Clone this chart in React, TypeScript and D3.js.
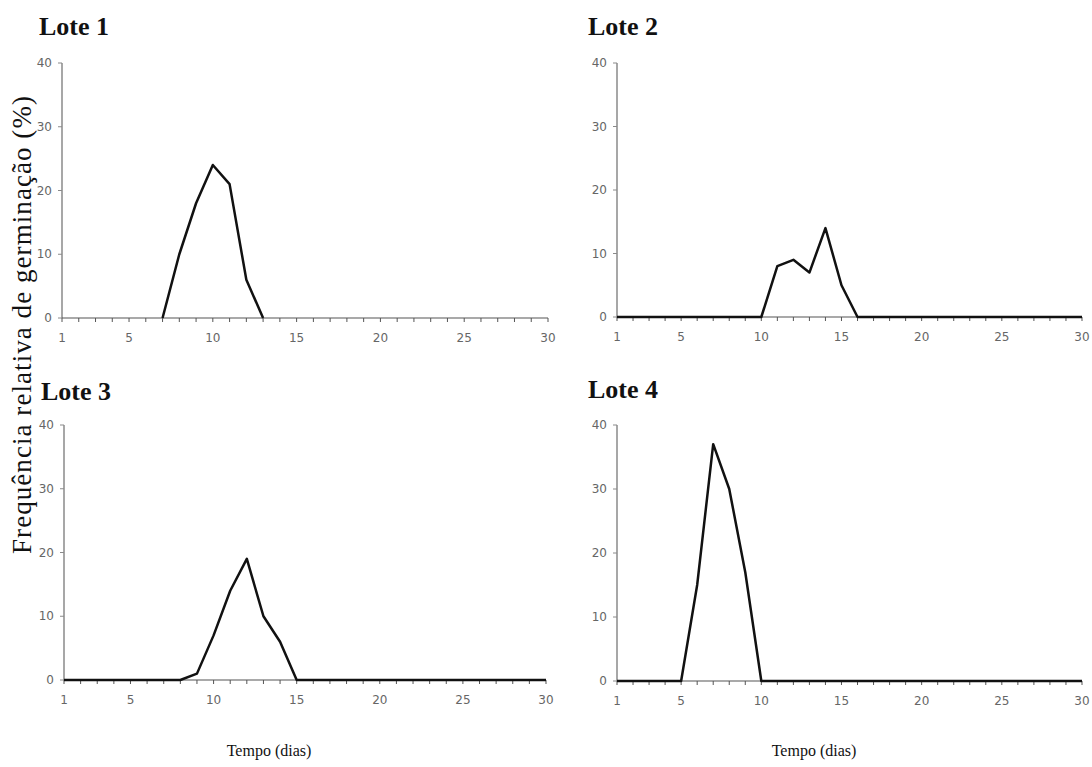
import React from "react";
import * as d3 from "d3";

const days = [1,2,3,4,5,6,7,8,9,10,11,12,13,14,15,16,17,18,19,20,21,22,23,24,25,26,27,28,29,30];
const xTickLabels = [1, 5, 10, 15, 20, 25, 30];
const yTickLabels = [0, 10, 20, 30, 40];

const lote1Days = [7, 8, 9, 10, 11, 12, 13];
const lote1Values = [0, 10, 18, 24, 21, 6, 0];
const lote2Values = [0,0,0,0,0,0,0,0,0,0,8,9,7,14,5,0,0,0,0,0,0,0,0,0,0,0,0,0,0,0];
const lote3Values = [0,0,0,0,0,0,0,0,1,7,14,19,10,6,0,0,0,0,0,0,0,0,0,0,0,0,0,0,0,0];
const lote4Values = [0,0,0,0,0,15,37,30,17,0,0,0,0,0,0,0,0,0,0,0,0,0,0,0,0,0,0,0,0,0];

const titles = ["Lote 1", "Lote 2", "Lote 3", "Lote 4"];
const yLabel = "Frequência relativa de germinação (%)";
const xLabel = "Tempo (dias)";

type Panel = {
  title: string; xs: number[]; ys: number[];
  x0: number; x1: number; yb: number; yt: number; tx: number; ty: number;
};

const panels: Panel[] = [
  { title: titles[0], xs: lote1Days, ys: lote1Values, x0: 62, x1: 548, yb: 318, yt: 63, tx: 39, ty: 35 },
  { title: titles[1], xs: days, ys: lote2Values, x0: 617, x1: 1082, yb: 317, yt: 63, tx: 588, ty: 35 },
  { title: titles[2], xs: days, ys: lote3Values, x0: 64, x1: 546, yb: 680, yt: 425, tx: 41, ty: 400 },
  { title: titles[3], xs: days, ys: lote4Values, x0: 617, x1: 1082, yb: 681, yt: 425, tx: 588, ty: 398 },
];

function PanelView({ p }: { p: Panel }) {
  const x = d3.scaleLinear().domain([1, 30]).range([p.x0, p.x1]);
  const y = d3.scaleLinear().domain([0, 40]).range([p.yb, p.yt]);
  const line = d3.line<number>().x((_, i) => x(p.xs[i])).y((d) => y(d));
  return (
    <g>
      <text x={p.tx} y={p.ty} fontFamily="Liberation Serif, Times New Roman, serif" fontWeight="bold" fontSize={26} fill="#111">{p.title}</text>
      <line x1={p.x0} x2={p.x0} y1={y(40)} y2={y(0)} stroke="#8a8a8a" strokeWidth={1.5} />
      {yTickLabels.map((t) => (
        <g key={"y" + t}>
          <line x1={p.x0 - 4} x2={p.x0} y1={y(t)} y2={y(t)} stroke="#8a8a8a" strokeWidth={1} />
          <text x={p.x0 - 10} y={y(t) + 4} textAnchor="end" fontFamily="DejaVu Sans, sans-serif" fontSize={12} fill="#666">{t}</text>
        </g>
      ))}
      <line x1={p.x0} x2={p.x1} y1={y(0)} y2={y(0)} stroke="#555" strokeWidth={1.2} />
      {days.map((d) => (
        <line key={"t" + d} x1={x(d)} x2={x(d)} y1={y(0)} y2={y(0) + 4} stroke="#555" strokeWidth={1} />
      ))}
      {xTickLabels.map((t) => (
        <text key={"x" + t} x={x(t)} y={y(0) + 24} textAnchor="middle" fontFamily="DejaVu Sans, sans-serif" fontSize={12} fill="#666">{t}</text>
      ))}
      <path d={line(p.ys) || ""} fill="none" stroke="#111" strokeWidth={2.5} strokeLinejoin="round" />
    </g>
  );
}

export default function App() {
  return (
    <svg width={1092} height={767} style={{ position: "absolute", left: 0, top: 0, background: "#fff" }}>
      <rect x={0} y={0} width={1092} height={767} fill="#fff" />
      {panels.map((p, i) => <PanelView key={i} p={p} />)}
      <text transform="translate(31,554) rotate(-90)" textAnchor="start" textLength={458} lengthAdjust="spacing" fontFamily="Liberation Serif, Times New Roman, serif" fontSize={27} fill="#111">{yLabel}</text>
      <text x={269} y={756} textAnchor="middle" fontFamily="Liberation Serif, Times New Roman, serif" fontSize={16} fill="#111">{xLabel}</text>
      <text x={814} y={756} textAnchor="middle" fontFamily="Liberation Serif, Times New Roman, serif" fontSize={16} fill="#111">{xLabel}</text>
    </svg>
  );
}
